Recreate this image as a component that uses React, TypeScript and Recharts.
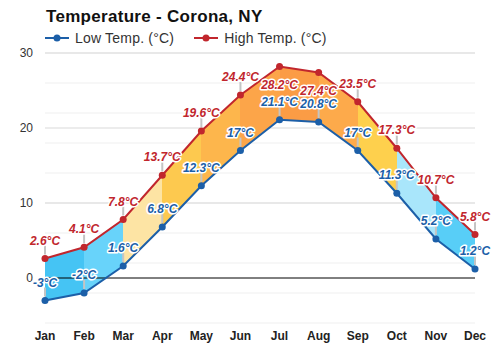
import {
  ComposedChart,
  Area,
  Line,
  XAxis,
  YAxis,
  CartesianGrid,
  ReferenceLine,
  LabelList,
  Legend,
} from 'recharts';

const months = ['Jan', 'Feb', 'Mar', 'Apr', 'May', 'Jun', 'Jul', 'Aug', 'Sep', 'Oct', 'Nov', 'Dec'];
const lowTemps = [-3, -2, 1.6, 6.8, 12.3, 17, 21.1, 20.8, 17, 11.3, 5.2, 1.2];
const highTemps = [2.6, 4.1, 7.8, 13.7, 19.6, 24.4, 28.2, 27.4, 23.5, 17.3, 10.7, 5.8];
const yTicks = [0, 10, 20, 30];

// fill colour of each month-to-month band
const bandColors = [
  '#45c4f4',
  '#68d3fa',
  '#fde4a4',
  '#fdc94f',
  '#fdb64c',
  '#fca549',
  '#fb9c45',
  '#fdaa4b',
  '#fed04d',
  '#a9e6fb',
  '#58cef7',
];

const LOW = '#1c5fa8';
const HIGH = '#c1262d';
const FONT = 'Arial, "Liberation Sans", sans-serif';

const data = months.map((m, i) => ({
  month: m,
  low: lowTemps[i],
  high: highTemps[i],
  range: [lowTemps[i], highTemps[i]],
}));

const minorGrid = Array.from({ length: 37 }, (_, i) => i - 6);
const majorGrid = [10, 20, 30];

const makeLabel = (color: string, kind: 'low' | 'high') => (props: any) => {
  const { x, y, value, index } = props;
  const below = kind === 'high' && (months[index] === 'Jul' || months[index] === 'Aug');
  return (
    <g>
      {!below && (
        <line x1={x} x2={x} y1={y - 4} y2={y - 13} stroke="#c4c4c4" strokeWidth={2} />
      )}
      <text
        x={x}
        y={below ? y + 22 : y - 14}
        textAnchor="middle"
        fill={color}
        stroke="#fff"
        strokeWidth={3}
        strokeLinejoin="round"
        paintOrder="stroke"
        fontStyle="italic"
        fontWeight="bold"
        fontSize={12}
        fontFamily={FONT}
      >
        {`${value}°C`}
      </text>
    </g>
  );
};

function LegendRow() {
  const item = (color: string, label: string) => (
    <div style={{ display: 'flex', alignItems: 'center', marginRight: 20 }}>
      <svg width={24} height={10} style={{ marginRight: 6 }}>
        <line x1={0} x2={24} y1={5} y2={5} stroke={color} strokeWidth={2} />
        <circle cx={12} cy={5} r={3.5} fill={color} />
      </svg>
      <span>{label}</span>
    </div>
  );
  return (
    <div
      style={{
        height: 25,
        paddingLeft: 45,
        display: 'flex',
        alignItems: 'flex-start',
        fontFamily: FONT,
        fontSize: 14,
        letterSpacing: 0.2,
        lineHeight: '20px',
        color: '#333',
      }}
    >
      {item(LOW, 'Low Temp. (°C)')}
      {item(HIGH, 'High Temp. (°C)')}
    </div>
  );
}

export default function App() {
  return (
    <div style={{ position: 'absolute', left: 0, top: 0, width: 500, height: 350, background: '#fff' }}>
      <div
        style={{
          position: 'absolute',
          left: 46,
          top: 7,
          fontFamily: FONT,
          fontWeight: 'bold',
          fontSize: 17,
          letterSpacing: 0.3,
          lineHeight: '20px',
          color: '#111',
          zIndex: 2,
        }}
      >
        Temperature - Corona, NY
      </div>
      <ComposedChart
        width={500}
        height={350}
        data={data}
        margin={{ top: 28, right: 25, bottom: 0, left: 0 }}
      >
        <defs>
          <linearGradient id="bandFill" x1="0" y1="0" x2="1" y2="0">
            {bandColors.flatMap((c, i) => [
              <stop key={`a${i}`} offset={i / bandColors.length} stopColor={c} />,
              <stop key={`b${i}`} offset={(i + 1) / bandColors.length} stopColor={c} />,
            ])}
          </linearGradient>
        </defs>
        <Legend verticalAlign="top" align="left" content={() => <LegendRow />} />
        <CartesianGrid vertical={false} horizontalValues={minorGrid} stroke="#efefef" />
        <CartesianGrid vertical={false} horizontalValues={majorGrid} stroke="#d9d9d9" />
        <XAxis
          dataKey="month"
          scale="point"
          padding={{ left: 0, right: 0 }}
          axisLine={false}
          tickLine={false}
          height={27}
          interval={0}
          tick={{ fill: '#222', fontSize: 12, fontWeight: 'bold', fontFamily: FONT }}
        />
        <YAxis
          domain={[-6, 30]}
          ticks={yTicks}
          width={45}
          axisLine={false}
          tickLine={false}
          tickMargin={6}
          tick={{ fill: '#333', fontSize: 12, fontFamily: FONT }}
        />
        <Area
          type="linear"
          dataKey="range"
          stroke="none"
          fill="url(#bandFill)"
          fillOpacity={1}
          isAnimationActive={false}
          activeDot={false}
        />
        <ReferenceLine y={0} stroke="#000" strokeWidth={1} />
        <Line
          type="linear"
          dataKey="low"
          stroke={LOW}
          strokeWidth={2}
          dot={{ r: 3.5, fill: LOW, stroke: LOW, strokeWidth: 0 }}
          activeDot={false}
          isAnimationActive={false}
        >
          <LabelList dataKey="low" content={makeLabel(LOW, 'low')} />
        </Line>
        <Line
          type="linear"
          dataKey="high"
          stroke={HIGH}
          strokeWidth={2}
          dot={{ r: 3.5, fill: HIGH, stroke: HIGH, strokeWidth: 0 }}
          activeDot={false}
          isAnimationActive={false}
        >
          <LabelList dataKey="high" content={makeLabel(HIGH, 'high')} />
        </Line>
      </ComposedChart>
    </div>
  );
}
